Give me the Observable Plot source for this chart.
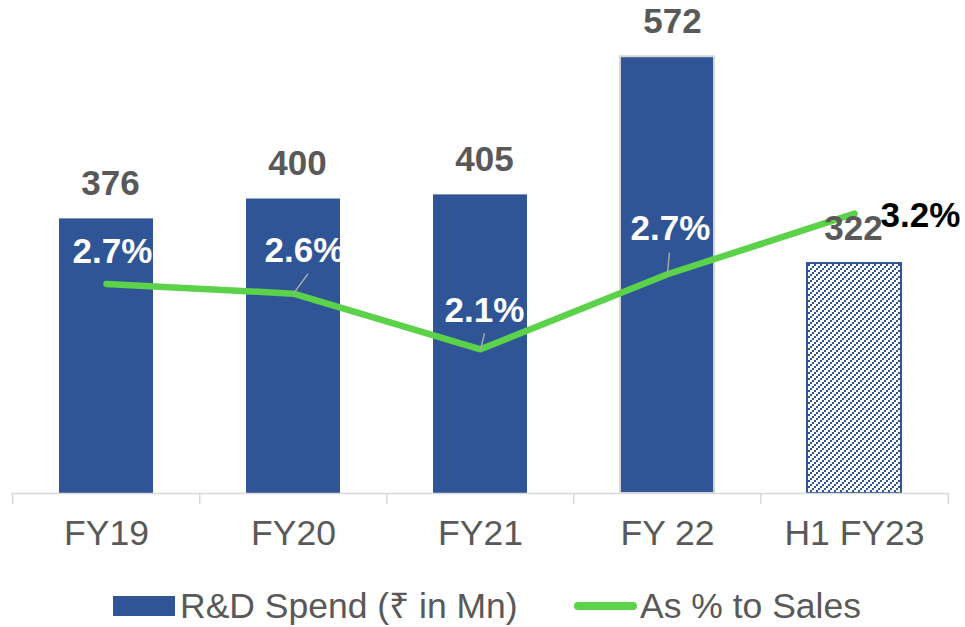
<!DOCTYPE html>
<html>
<head>
<meta charset="utf-8">
<script src="https://cdn.jsdelivr.net/npm/d3@7"></script>
<script src="https://cdn.jsdelivr.net/npm/@observablehq/plot@0.6"></script>
<style>
  html, body { margin: 0; padding: 0; background: #fff; overflow: hidden; }
  #wrap { position: relative; width: 965px; height: 627px; font-family: "Liberation Sans", Arial, sans-serif; }
  .legend { position: absolute; top: 586px; left: 0; width: 965px; height: 40px; }
  .sw-bar { position: absolute; left: 113px; top: 10px; width: 62px; height: 20px; background: #2F5597; }
  .sw-line { position: absolute; left: 574px; top: 16px; width: 63px; height: 8px; border-radius: 4px; background: #5BD24A; }
  .lt { position: absolute; top: 0; font-size: 35.5px; line-height: 40px; color: #595959; white-space: nowrap; }
</style>
</head>
<body>
<div id="wrap">
  <div id="chart"></div>
  <div class="legend">
    <div class="sw-bar"></div><div class="lt" style="left:180px">R&amp;D Spend (₹ in Mn)</div>
    <div class="sw-line"></div><div class="lt" style="left:640px">As % to Sales</div>
  </div>
</div>
<script>
// ---- data ----
const categories = ["FY19", "FY20", "FY21", "FY 22", "H1 FY23"];
const rdSpend = [376, 400, 405, 572, 322];
const pctOfSales = [2.66, 2.58, 2.12, 2.74, 3.24];

// ---- layout / style settings (not data) ----
const yDomain = [44, 640];          // primary axis (₹ Mn), baseline not at zero as in source
const pctDomain = [0.93, 5.0];      // secondary axis (%)
const valueLabelDx = [4, 4, 4, 5, -1];
const pctLabelOffset = [[6, -32], [11, -43], [4, -39], [3, -45], [66, 2]];
const pctLabelColor = ["#fff", "#fff", "#fff", "#fff", "#000"];
const leader = [null, [24, 36], [16, 14], [21, 5], null]; // [length px, rotate deg]

const blue = "#2F5597", green = "#5BD24A", gray = "#595959";
const y2 = d3.scaleLinear(pctDomain, yDomain);

const data = categories.map((c, i) => ({
  cat: c, spend: rdSpend[i], pct: pctOfSales[i], yp: y2(pctOfSales[i])
}));

const lineShape = { draw(ctx, l) { ctx.moveTo(0, 0); ctx.lineTo(0, -l); } };
const step = (965 - 11.25 - 16.25) / 5;

const marks = [
  // bars
  Plot.barY(data.slice(0, 3), { x: "cat", y1: () => yDomain[0], y2: "spend", fill: blue }),
  Plot.barY(data.slice(3, 4), { x: "cat", y1: () => yDomain[0], y2: "spend", fill: blue, stroke: "#d4d4d4", strokeWidth: 2 }),
  Plot.barY(data.slice(4), { x: "cat", y1: () => yDomain[0], y2: "spend", fill: "white", stroke: blue, strokeWidth: 2, className: "hatchbar" }),
  // axis line and ticks between categories
  Plot.ruleY([yDomain[0]], { stroke: "#d9d9d9", strokeWidth: 1.5 }),
  Plot.vector(data, { x: "cat", y: () => yDomain[0], length: 10, rotate: 180, anchor: "start", shape: lineShape, stroke: "#d9d9d9", strokeWidth: 1.5, dx: -step / 2 }),
  Plot.vector(data.slice(4), { x: "cat", y: () => yDomain[0], length: 10, rotate: 180, anchor: "start", shape: lineShape, stroke: "#d9d9d9", strokeWidth: 1.5, dx: step / 2 }),
  Plot.axisX({ tickSize: 0, tickPadding: 26, fontSize: 35.5, label: null }),
  // line
  Plot.line(data, { x: "cat", y: "yp", stroke: green, strokeWidth: 6.5, strokeLinecap: "round", strokeLinejoin: "round" })
];

// value labels, leader lines & percent labels
data.forEach((d, i) => {
  marks.push(Plot.text([d], { x: "cat", y: "spend", text: v => String(v.spend), dy: -35, dx: valueLabelDx[i], fontSize: 35, fontWeight: "bold", fill: gray }));
  if (leader[i]) {
    marks.push(Plot.vector([d], { x: "cat", y: "yp", length: leader[i][0], rotate: leader[i][1], anchor: "start", shape: lineShape, stroke: "#a6a6a6", strokeWidth: 1.5 }));
  }
  marks.push(Plot.text([d], {
    x: "cat", y: "yp", text: v => v.pct.toFixed(1) + "%",
    dx: pctLabelOffset[i][0], dy: pctLabelOffset[i][1],
    fontSize: 35, fontWeight: "bold", fill: pctLabelColor[i]
  }));
});

const plot = Plot.plot({
  width: 965,
  height: 563,
  marginTop: 0,
  marginBottom: 70,
  marginLeft: 11.25,
  marginRight: 16.25,
  style: { fontFamily: '"Liberation Sans", Arial, sans-serif', color: gray, background: "white", overflow: "visible" },
  x: { domain: categories, paddingInner: 0.5, paddingOuter: 0.25, label: null },
  y: { domain: yDomain, axis: null },
  marks
});

// hatch pattern for the half-year bar
const svg = d3.select(plot);
const defs = svg.insert("defs", ":first-child");
const pat = defs.append("pattern").attr("id", "hatch").attr("patternUnits", "userSpaceOnUse")
  .attr("width", 6).attr("height", 6);
pat.append("rect").attr("width", 6).attr("height", 6).attr("fill", "white");
[[0, 4], [2, 2], [4, 0]].forEach(([x, y]) =>
  pat.append("rect").attr("x", x).attr("y", y).attr("width", 2).attr("height", 2).attr("fill", blue));
svg.selectAll(".hatchbar rect").attr("fill", "url(#hatch)");

document.getElementById("chart").appendChild(plot);
</script>
</body>
</html>
